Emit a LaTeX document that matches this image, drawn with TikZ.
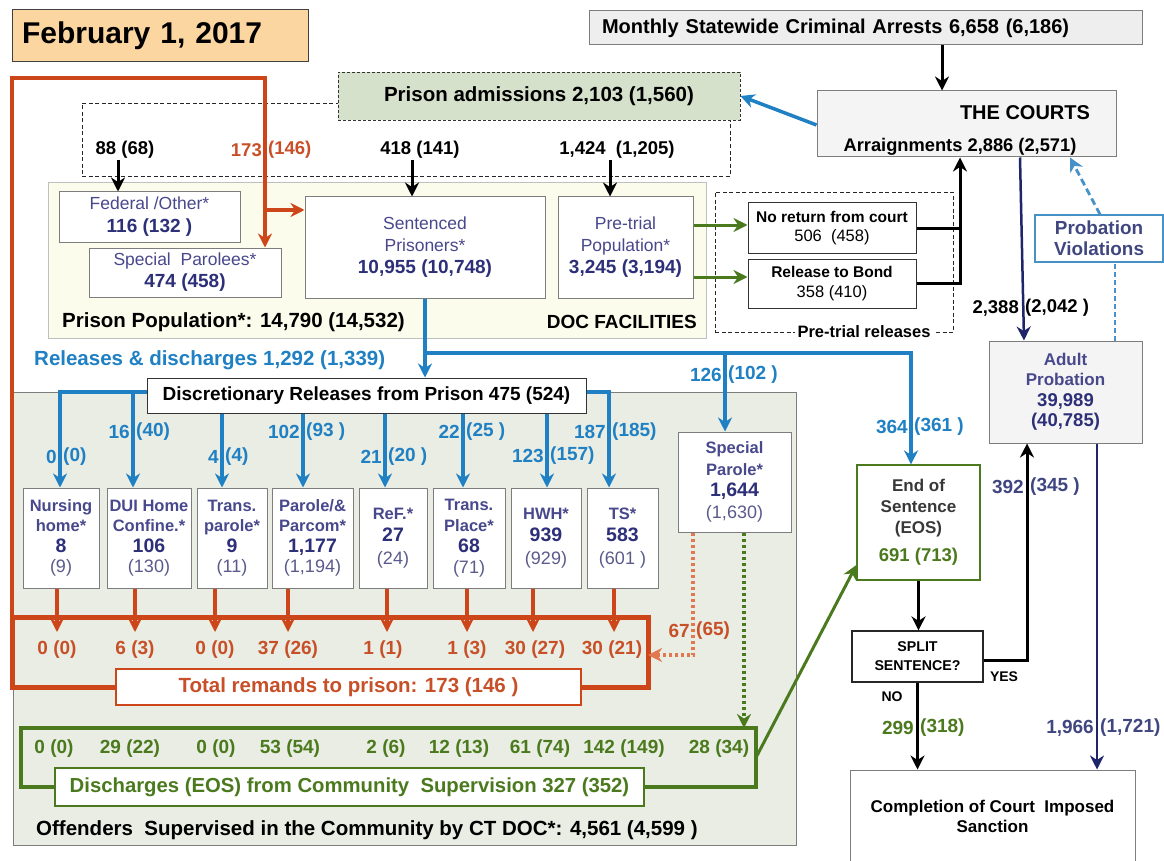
\documentclass[tikz,border=0pt]{standalone}
\usepackage{fontspec}
\setmainfont{Liberation Sans}
\usetikzlibrary{arrows.meta}
\definecolor{cblue}{RGB}{31,128,196}
\definecolor{cred}{RGB}{205,70,25}
\definecolor{credt}{RGB}{200,80,40}
\definecolor{cgreen}{RGB}{75,122,30}
\definecolor{cnavy}{RGB}{30,38,105}
\definecolor{cpurp}{RGB}{72,72,140}
\definecolor{cpurpd}{RGB}{45,48,120}
\definecolor{cpurpl}{RGB}{90,90,140}
\definecolor{cgrayfill}{RGB}{233,237,227}
\definecolor{cdocfill}{RGB}{252,252,236}
\definecolor{cadmfill}{RGB}{214,225,204}
\definecolor{ctitle}{RGB}{251,214,160}
\definecolor{clight}{RGB}{238,238,238}
\definecolor{clight2}{RGB}{244,244,244}
\definecolor{cbord}{RGB}{125,125,125}
\definecolor{cpv}{RGB}{70,145,200}
\definecolor{creddot}{RGB}{225,120,80}
\newcommand\fs[2]{\fontsize{#1}{#2}\selectfont}
\newcommand\NmA{\fs{17.5}{22}\color{cpurp}}
\newcommand\NbA{\fs{19}{22}\bfseries\color{cpurpd}}
\newcommand\NmB{\fs{16.5}{21}\bfseries\color{cpurp}}
\newcommand\NbB{\fs{19.5}{21}\bfseries\color{cpurpd}}
\newcommand\NpB{\fs{18}{21}\color{cpurpl}}
\newcommand\LabSplit[6]{%
  \node[lab,#6,anchor=east] (#1L) at (#2-3,#3) {#4};
  \node[lab,#6,anchor=west] (#1R) at (#2+3,#3) {#5};}
\begin{document}
\begin{tikzpicture}[x=1pt,y=-1pt,
  >={Stealth[length=14pt,width=14pt,inset=4.5pt]},
  box/.style={draw=cbord,line width=1pt,fill=white,inner sep=0pt,align=center},
  frame/.style={draw=black!85,line width=0.9pt,dash pattern=on 4pt off 2.5pt,inner sep=0pt},
  lab/.style={inner sep=0pt,font=\fs{19}{22}\bfseries},
  bl/.style={draw=cblue,line width=3.5pt},
  rd/.style={draw=cred,line width=3.5pt},
  rdbig/.style={draw=cred,line width=4pt},
  bk/.style={draw=black,line width=3pt},
  gn/.style={draw=cgreen,line width=3pt},
  nv/.style={draw=cnavy,line width=2.5pt},
  rdot/.style={draw=creddot,line width=4pt,dash pattern=on 3pt off 3pt},
  gdot/.style={draw=cgreen,line width=4pt,dash pattern=on 3pt off 3pt},
  pvd/.style={draw=cpv,line width=1.8pt,dash pattern=on 5pt off 3pt},
  pvd2/.style={draw=cpv,line width=2.8pt,dash pattern=on 7pt off 4pt}]
\useasboundingbox (0,0) rectangle (1164,861);
\fill[white] (0,0) rectangle (1164,861);

% ---------- background frames ----------
\node[draw=cbord,line width=1pt,fill=cgrayfill,minimum width=783pt,minimum height=453pt,inner sep=0pt] (comm) at (404.5,618.5) {};
\node[frame,minimum width=648pt,minimum height=73pt] (admframe) at (406,139.5) {};
\node[draw=black!25,line width=1pt,fill=cdocfill,minimum width=658pt,minimum height=155pt,inner sep=0pt] (doc) at (377,260.5) {};
\node[frame,minimum width=238pt,minimum height=140pt] (ptframe) at (834,262) {};

% ---------- top ----------
\node[draw=black!75,line width=1pt,fill=ctitle,minimum height=52pt,text width=276pt,inner xsep=10pt,inner ysep=0pt,align=left,font=\fs{30}{34}\bfseries] (title) at (160,36) {February 1, 2017};
\node[draw=cbord,line width=1pt,fill=clight,minimum height=34pt,text width=527pt,inner xsep=13pt,inner ysep=0pt,align=left,font=\fs{20}{24}\bfseries] (arrests) at (865.5,28) {Monthly\hspace{7pt}Statewide Criminal Arrests 6,658 (6,186)};
\node[draw=cbord,line width=1pt,fill=clight2,minimum width=299pt,minimum height=66pt,inner sep=0pt] (courts) at (966.5,124) {};
\node[inner sep=0pt,font=\fs{20}{24}\bfseries] (courtsT) at (1025,113) {THE COURTS};
\node[inner sep=0pt,font=\fs{18.3}{22}\bfseries] (arraign) at (960,147) {Arraignments 2,886 (2,571)};
\node[draw=black!80,line width=0.9pt,dash pattern=on 3pt off 2pt,fill=cadmfill,minimum width=402pt,minimum height=48pt,inner sep=0pt,font=\fs{20.5}{24}\bfseries] (adm) at (539,96) {Prison admissions 2,103 (1,560)};

\node[lab,font=\fs{18.5}{22}\bfseries] (l88) at (125,150) {88 (68)};
\LabSplit{l173}{265}{150}{173}{(146)}{text=credt,font=\fs{18.5}{22}\bfseries}
\node[lab,font=\fs{18.5}{22}\bfseries] (l418) at (420,150) {418 (141)};
\node[lab,font=\fs{18.5}{22}\bfseries] (l1424) at (617,150) {1,424~ (1,205)};

% ---------- DOC facilities ----------
\node[box,minimum width=181pt,minimum height=50pt,font=\fs{18}{23}] (fed) at (149.5,217) {\NmA Federal /Other*\\\NbA 116 (132 )};
\node[box,minimum width=192pt,minimum height=49pt,font=\fs{18}{22}] (spp) at (185,272.5) {\NmA Special~ Parolees*\\\NbA 474 (458)};
\node[box,minimum width=240pt,minimum height=101pt,font=\fs{18}{22}] (sent) at (425,247.5) {\NmA Sentenced\\\NmA Prisoners*\\\NbA 10,955 (10,748)};
\node[box,minimum width=135pt,minimum height=101pt,font=\fs{18}{22}] (pre) at (625.5,247.5) {\NmA Pre-trial\\\NmA Population*\\\NbA 3,245 (3,194)};
\node[anchor=west,inner sep=0pt,font=\fs{20.5}{24}\bfseries] (ppop) at (62,322) {Prison Population*: 14,790 (14,532)};
\node[anchor=east,inner sep=0pt,font=\fs{19}{24}\bfseries] (docf) at (697,322) {DOC FACILITIES};

% ---------- pre-trial releases ----------
\node[box,draw=black!80,minimum width=168pt,minimum height=50pt,font=\fs{16}{19}] (nr) at (832,228) {\fs{15.5}{19}\bfseries No return from court\\\fs{16.5}{19}506~ (458)};
\node[box,draw=black!80,minimum width=168pt,minimum height=49pt,font=\fs{16}{20}] (bond) at (832,283.5) {\fs{15.5}{19}\bfseries Release to Bond\\\fs{16.5}{19}358 (410)};
\node[fill=white,inner xsep=3pt,inner ysep=0pt,font=\fs{16.5}{20}\bfseries] (ptlab) at (864,332) {Pre-trial releases};

% ---------- right column ----------
\node[draw=cbord,line width=1pt,fill=clight2,minimum width=153pt,minimum height=102pt,inner sep=0pt,align=center,font=\fs{17}{20.5}] (ap) at (1065.5,392) {\fs{17}{20}\bfseries\color{cpurp}Adult\\\fs{17}{20}\bfseries\color{cpurp}Probation\\\fs{18.5}{20}\bfseries\color{cpurpd}39,989\\\fs{18.5}{20}\bfseries\color{cpurpd}(40,785)};
\node[draw=cpv,line width=1.2pt,fill=white,minimum width=128pt,minimum height=47pt,inner sep=0pt,align=center,font=\fs{18.9}{21}\bfseries,text=cnavy!85!white] (pv) at (1099,238.5) {Probation\\Violations};
\node[draw=cgreen,line width=1.2pt,fill=white,minimum width=123pt,minimum height=115pt,inner sep=0pt,align=center,font=\fs{17}{21}] (eos) at (918.5,522.5) {\fs{17}{21}\bfseries\color{black!78}End of\\\fs{17}{21}\bfseries\color{black!78}Sentence\\\fs{17}{21}\bfseries\color{black!78}(EOS)\\[7pt]\fs{18.5}{21}\bfseries\color{cgreen}691 (713)};
\node[draw=black!85,line width=1.2pt,fill=white,minimum width=131pt,minimum height=51pt,inner sep=0pt,align=center,font=\fs{14.2}{19}\bfseries] (split) at (917.5,656.5) {SPLIT\\SENTENCE?};
\node[draw=cbord,line width=1pt,fill=white,minimum width=285pt,minimum height=92pt,inner sep=0pt,align=center,font=\fs{17}{20}\bfseries] (comp) at (992.5,816) {Completion of Court~ Imposed\\Sanction};
\node[inner sep=0pt,font=\fs{14}{16}\bfseries] (yes) at (1004,677) {YES};
\node[inner sep=0pt,font=\fs{14}{16}\bfseries] (no) at (892,697) {NO};

% ---------- community ----------
\node[draw=cred,line width=5pt,outer sep=0pt,minimum width=636pt,minimum height=70pt,inner sep=0pt] (remrect) at (330,652) {};
\node[draw=cgreen,line width=4pt,outer sep=0pt,minimum width=735pt,minimum height=59pt,inner sep=0pt] (grect) at (388.5,757.5) {};
\node[draw=black!80,line width=1pt,fill=white,minimum width=439pt,minimum height=35pt,inner sep=0pt,font=\fs{19}{22}\bfseries] (disc) at (366.5,395.5) {Discretionary Releases from Prison 475 (524)};
\node[anchor=west,inner sep=0pt,font=\fs{20.5}{24}\bfseries,text=cblue] (reltxt) at (34,360) {Releases \& discharges 1,292 (1,339)};

\node[box,minimum width=76pt,minimum height=100pt,font=\fs{17}{20.5}] (nur) at (61,538) {\NmB Nursing\\\NmB home*\\\NbB 8\\\NpB (9)};
\node[box,minimum width=84pt,minimum height=100pt,font=\fs{17}{20.5}] (dui) at (149,538) {\NmB DUI Home\\\NmB Confine.*\\\NbB 106\\\NpB (130)};
\node[box,minimum width=70pt,minimum height=100pt,font=\fs{17}{20.5}] (tpa) at (232,538) {\NmB Trans.\\\NmB parole*\\\NbB 9\\\NpB (11)};
\node[box,minimum width=81pt,minimum height=100pt,font=\fs{17}{20.5}] (par) at (312.5,538) {\NmB Parole/\&\\\NmB Parcom*\\\NbB 1,177\\\NpB (1,194)};
\node[box,minimum width=68pt,minimum height=100pt,font=\fs{17}{22.5}] (ref) at (393,538) {\NmB ReF.*\\\NbB 27\\\NpB (24)};
\node[box,minimum width=72pt,minimum height=100pt,font=\fs{17}{21}] (tpl) at (469,538) {\NmB Trans.\\\NmB Place*\\\NbB 68\\\NpB (71)};
\node[box,minimum width=70pt,minimum height=100pt,font=\fs{17}{22.5}] (hwh) at (546,538) {\NmB HWH*\\\NbB 939\\\NpB (929)};
\node[box,minimum width=71pt,minimum height=100pt,font=\fs{17}{22.5}] (ts) at (622.5,538) {\NmB TS*\\\NbB 583\\\NpB (601 )};
\node[box,minimum width=113pt,minimum height=100pt,font=\fs{17}{21.7}] (sp) at (734.5,482) {\NmB Special\\\NmB Parole*\\\NbB 1,644\\\NpB (1,630)};

\node[draw=cred,line width=1.2pt,fill=white,minimum width=465pt,minimum height=36pt,inner sep=0pt,font=\fs{20.5}{24}\bfseries,text=credt] (remtot) at (348.5,687) {Total remands to prison: 173 (146 )};
\node[draw=cgreen,line width=1.2pt,fill=white,minimum width=589pt,minimum height=38pt,inner sep=0pt,font=\fs{20.3}{24}\bfseries,text=cgreen] (disch) at (349.5,787) {Discharges (EOS) from Community~ Supervision 327 (352)};
\node[anchor=west,inner sep=0pt,font=\fs{20.5}{24}\bfseries] (offtxt) at (36,830) {Offenders~ Supervised in the Community by CT DOC*: 4,561 (4,599 )};

% remand numbers
\foreach \nm/\xx/\tx in {m1/57/0 (0),m2/135/6 (3),m3/215/0 (0),m4/288/37 (26),m5/383/1 (1),m6/467/1 (3),m7/535/30 (27),m8/612/30 (21)}
  \node[lab,text=credt] (\nm) at (\xx,650) {\tx};
% discharge numbers
\foreach \nm/\xx/\tx in {d1/54/0 (0),d2/130/29 (22),d3/216/0 (0),d4/290/53 (54),d5/386/2 (6),d6/459/12 (13),d7/540/61 (74),d8/624/142 (149),d9/719/28 (34)}
  \node[lab,text=cgreen] (\nm) at (\xx,749) {\tx};

% split labels
\LabSplit{b1}{60}{457}{0}{(0)}{text=cblue}
\LabSplit{b2}{133}{432}{16}{(40)}{text=cblue}
\LabSplit{b3}{222}{457}{4}{(4)}{text=cblue}
\LabSplit{b4}{303}{432}{102}{(93 )}{text=cblue}
\LabSplit{b5}{385}{457}{21}{(20 )}{text=cblue}
\LabSplit{b6}{463}{432}{22}{(25 )}{text=cblue}
\LabSplit{b7}{547}{456}{123}{(157)}{text=cblue}
\LabSplit{b8}{609}{432}{187}{(185)}{text=cblue}
\LabSplit{b9}{725}{375}{126}{(102 )}{text=cblue}
\LabSplit{b10}{911}{427}{364}{(361 )}{text=cblue}
\LabSplit{k1}{1022}{308}{2,388}{(2,042 )}{font=\fs{18.5}{22}\bfseries}
\LabSplit{k2}{1027}{487}{392}{(345 )}{text=cnavy!85!white}
\LabSplit{k3}{917}{728}{299}{(318)}{text=cgreen}
\LabSplit{k4}{1097}{728}{1,966}{(1,721)}{text=cnavy!85!white}
\LabSplit{k5}{693}{631}{67}{(65)}{text=credt}

% ---------- coordinates ----------
\coordinate (ka) at (942,0);
\coordinate (k88) at (118,160);
\coordinate (k418) at (412,160);
\coordinate (k1424) at (610,160);
\coordinate (cy) at (0,125);
\coordinate (cj) at (960,0);
\coordinate (gy1) at (0,225);
\coordinate (gy2) at (0,277);
\coordinate (rc) at (265,78);
\coordinate (rb) at (265,210);
\coordinate (bj) at (426,353);
\coordinate (bE) at (911,353);
\coordinate (bS) at (725,353);
\coordinate (x1) at (60,392);
\coordinate (x2) at (133,392);
\coordinate (x3) at (222,0);
\coordinate (x4) at (303,0);
\coordinate (x5) at (385,0);
\coordinate (x6) at (463,0);
\coordinate (x7) at (547,0);
\coordinate (x8) at (609,392);
\coordinate (rd1) at (693,655);
\coordinate (gd1) at (744,0);
\coordinate (gy) at (0,565);
\coordinate (sy) at (0,660);
\coordinate (apx) at (1027,0);
\coordinate (n1) at (1020,0);
\coordinate (n2) at (1024,0);
\coordinate (n3) at (1097,0);
\coordinate (p1) at (1115,0);
\coordinate (p2) at (1100,0);
\coordinate (p3) at (1070,0);

% ---------- connectors ----------
\draw[bk,->] (ka |- arrests.south) -- (ka |- courts.north);
\draw[bl,->] (courts.west |- cy) -- (adm.east);
\draw[bk,->] (k88) -- (k88 |- fed.north);
\draw[bk,->] (k418) -- (k418 |- sent.north);
\draw[bk,->] (k1424) -- (k1424 |- pre.north);

\draw[gn,->] (pre.east |- gy1) -- (nr.west |- gy1);
\draw[gn,->] (pre.east |- gy2) -- (bond.west |- gy2);
\draw[bk] (nr.east) -- (nr.east -| cj);
\draw[bk,->] (bond.east) -| (cj |- courts.south);

\draw[rdbig,->] (remrect.north west) |- (rc) -- (rc |- spp.north);
\draw[rd,->] (rb) -- (rb -| sent.west);

\draw[bl,->] (sent.south) -- (sent.south |- disc.north);
\draw[bl,->] (bj) -- (bE) -- (bE |- eos.north);
\draw[bl,->] (bS) -- (bS |- sp.north);
\draw[bl,->] (disc.west |- x1) -- (x1) -- (x1 |- nur.north);
\draw[bl,->] (x2) -- (x2 |- dui.north);
\draw[bl,->] (x3 |- disc.south) -- (x3 |- tpa.north);
\draw[bl,->] (x4 |- disc.south) -- (x4 |- par.north);
\draw[bl,->] (x5 |- disc.south) -- (x5 |- ref.north);
\draw[bl,->] (x6 |- disc.south) -- (x6 |- tpl.north);
\draw[bl,->] (x7 |- disc.south) -- (x7 |- hwh.north);
\draw[bl,->] (disc.east |- x8) -- (x8) -- (x8 |- ts.north);

\foreach \bx/\xx in {nur/57,dui/135,tpa/215,par/288,ref/387,tpl/467,hwh/533,ts/614}{
  \coordinate (rr\bx) at (\xx,632);
  \draw[rd,->] (rr\bx |- \bx.south) -- (rr\bx);
}
\draw[rdot,->] (rd1 |- sp.south) -- (rd1) -- (rd1 -| remrect.east);
\draw[gdot,->] (gd1 |- sp.south) -- (gd1 |- grect.north);
\draw[gn,->] (grect.east) -- (eos.west |- gy);

\draw[bk,->] (eos.south) -- (eos.south |- split.north);
\draw[bk,->] (split.east |- sy) -| (apx |- ap.south);
\draw[bk,->] (split.south) -- (split.south |- comp.north);
\draw[nv,->] (n1 |- courts.south) -- (n2 |- ap.north);
\draw[nv,->] (n3 |- ap.south) -- (n3 |- comp.north);
\draw[pvd] (p1 |- ap.north) -- (p1 |- pv.south);
\draw[pvd2,->] (p2 |- pv.north) -- (p3 |- courts.south);
\end{tikzpicture}
\end{document}
